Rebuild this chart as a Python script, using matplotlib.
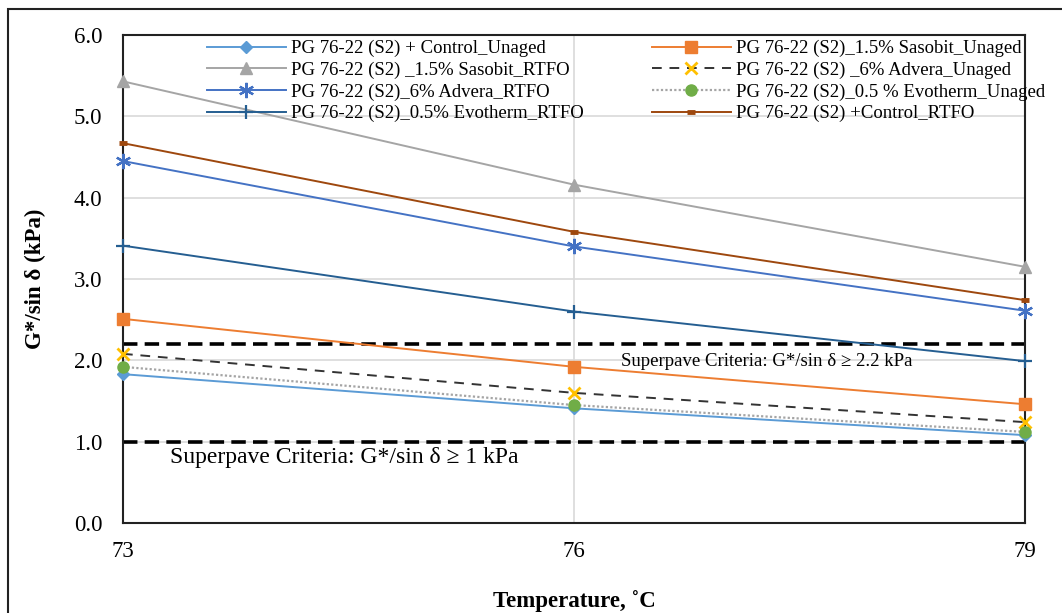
import matplotlib.pyplot as plt
from matplotlib.patches import Rectangle

plt.rcParams['font.family'] = ['Liberation Serif', 'DejaVu Serif']

temps = [73, 76, 79]

control_unaged = [1.83, 1.41, 1.08]
sasobit_unaged = [2.51, 1.92, 1.46]
sasobit_rtfo = [5.43, 4.16, 3.15]
advera_unaged = [2.08, 1.60, 1.24]
advera_rtfo = [4.45, 3.40, 2.61]
evotherm_unaged = [1.92, 1.45, 1.12]
evotherm_rtfo = [3.41, 2.60, 1.99]
control_rtfo = [4.67, 3.58, 2.74]

criteria_high = 2.2
criteria_low = 1.0

fig = plt.figure(figsize=(10.62, 6.13), dpi=100)
ax = fig.add_axes([123/1062, 1-523/613, (1025-123)/1062, (523-35)/613])

lw = 1.4
kw = dict(clip_on=False, zorder=3)
l1, = ax.plot(temps, control_unaged, color='#5B9BD5', lw=lw, marker='D', ms=6,
              label='PG 76-22 (S2) + Control_Unaged', **kw)
l2, = ax.plot(temps, sasobit_unaged, color='#ED7D31', lw=lw, marker='s', ms=8,
              label='PG 76-22 (S2)_1.5% Sasobit_Unaged', **kw)
l3, = ax.plot(temps, sasobit_rtfo, color='#A5A5A5', lw=lw, marker='^', ms=9,
              label='PG 76-22 (S2) _1.5% Sasobit_RTFO', **kw)
l4, = ax.plot(temps, advera_unaged, color='#333333', lw=lw, ls=(0, (5, 4)),
              marker='x', ms=9, mec='#FFC000', mew=2,
              label='PG 76-22 (S2) _6% Advera_Unaged', **kw)
l5, = ax.plot(temps, advera_rtfo, color='#4472C4', lw=lw, marker=(6, 2, 0),
              ms=11, mew=1.6, label='PG 76-22 (S2)_6% Advera_RTFO', **kw)
l6, = ax.plot(temps, evotherm_unaged, color='#A5A5A5', lw=1.6, ls=(0, (1, 1)),
              marker='o', ms=8, mfc='#70AD47', mec='#70AD47',
              label='PG 76-22 (S2)_0.5 % Evotherm_Unaged', **kw)
l7, = ax.plot(temps, evotherm_rtfo, color='#255E91', lw=lw, marker='+', ms=10,
              mew=1.6, label='PG 76-22 (S2)_0.5% Evotherm_RTFO', **kw)
l8, = ax.plot(temps, control_rtfo, color='#9E480E', lw=lw, marker='_', ms=6,
              mew=3.5, label='PG 76-22 (S2) +Control_RTFO', **kw)

# criteria lines
ax.axhline(criteria_high, color='black', lw=2.6, ls=(0, (4, 2)), zorder=2)
ax.axhline(criteria_low, color='black', lw=2.6, ls=(0, (4, 2)), zorder=2)
ax.text(77.28, 1.98, 'Superpave Criteria: G*/sin δ ≥ 2.2 kPa', fontsize=13.5,
        ha='center', va='center')
ax.text(74.47, 0.80, 'Superpave Criteria: G*/sin δ ≥ 1 kPa', fontsize=17,
        ha='center', va='center')

ax.set_xlim(73, 79)
ax.set_ylim(0, 6)
ax.set_xticks(temps)
ax.set_yticks([0, 1, 2, 3, 4, 5, 6])
ax.set_yticklabels([f'{v:.1f}' for v in [0, 1, 2, 3, 4, 5, 6]])
ax.tick_params(length=0, labelsize=16.5, pad=15)
ax.tick_params(axis='x', pad=13)
ax.grid(True, color='#D9D9D9', lw=1.2)
ax.set_axisbelow(True)
for s in ax.spines.values():
    s.set_color('#222222')
    s.set_linewidth(1.5)

ax.set_xlabel('Temperature, ˚C', fontsize=16.5, fontweight='bold', labelpad=20)
ax.set_ylabel('G*/sin δ (kPa)', fontsize=16.5, fontweight='bold', labelpad=20)

leg_kw = dict(frameon=False, fontsize=13.5, handlelength=4.2, handletextpad=0.3,
              labelspacing=0.23, borderpad=0, borderaxespad=0, loc='upper left')
leg1 = fig.legend(handles=[l1, l3, l5, l7], bbox_to_anchor=(207/1062, 1-40/613),
                  **leg_kw)
leg2 = fig.legend(handles=[l2, l4, l6, l8], bbox_to_anchor=(652/1062, 1-40/613),
                  **leg_kw)

# outer chart border
fig.patches.append(Rectangle((8/1062, -0.1), 1.2, 1 - 9/613 + 0.1,
                             transform=fig.transFigure, fill=False,
                             ec='#222222', lw=1.5))

fig.savefig('out.png', dpi=100)
